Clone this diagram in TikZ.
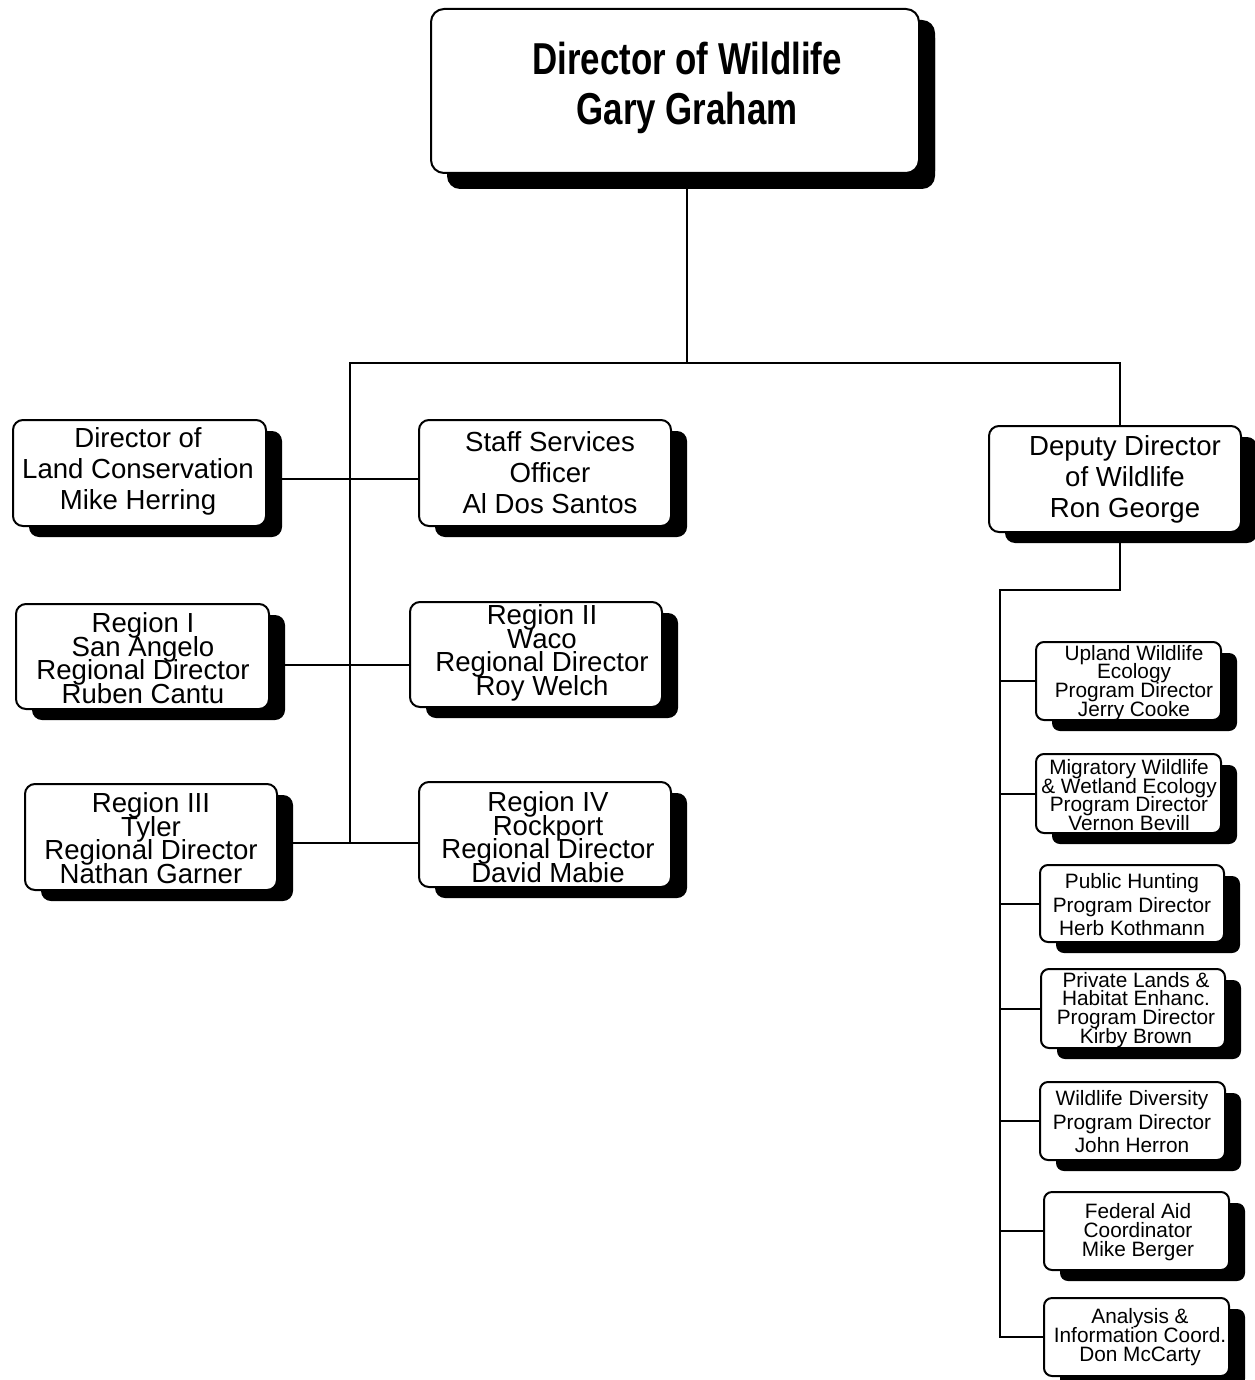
\documentclass[tikz,border=0pt]{standalone}
\usepackage{fontspec}
\usetikzlibrary{shadows}
\newfontfamily\orgfont{Liberation Sans}
\newfontfamily\headfont[FakeStretch=0.78]{Liberation Sans}
% fixed line pitch, even where glyphs of adjacent lines touch
\newcommand\fixedlines{\lineskiplimit=-100pt\lineskip=0pt}
\tikzset{
  box/.style={draw, line width=2pt, fill=white, inner sep=0pt, rounded corners=10pt,
    general shadow={fill=black, shadow xshift=16pt, shadow yshift=-11pt}},
  bigbox/.style={box, rounded corners=13pt,
    general shadow={fill=black, shadow xshift=16pt, shadow yshift=-16pt}},
  smallbox/.style={box, rounded corners=8pt},
  txt/.style={align=center, inner sep=0pt, text=black},
  midtxt/.style={txt, font=\orgfont\fontsize{27.6}{31}\selectfont\fixedlines},
  regtxt/.style={txt, font=\orgfont\fontsize{27.6}{23.5}\selectfont\fixedlines},
  smalltxt/.style={txt, font=\orgfont\fontsize{20.8}{18.8}\selectfont\fixedlines},
  smalltxtwide/.style={txt, font=\orgfont\fontsize{20.8}{23.5}\selectfont\fixedlines},
  wire/.style={line width=2pt, line cap=rect}
}
\begin{document}
\begin{tikzpicture}[x=1pt, y=-1pt]
\useasboundingbox[fill=white] (0,0) rectangle (1254,1380);

% ---- boxes (top-left corner, size) ----
\node[bigbox, anchor=north west, minimum width=488pt, minimum height=164pt] (top) at (430,8) {};
\node[box, anchor=north west, minimum width=253pt, minimum height=106pt] (land) at (12,419) {};
\node[box, anchor=north west, minimum width=252pt, minimum height=106pt] (staff) at (418,419) {};
\node[box, anchor=north west, minimum width=252pt, minimum height=106pt] (dep) at (988,425) {};
\node[box, anchor=north west, minimum width=253pt, minimum height=105pt] (r1) at (15,603) {};
\node[box, anchor=north west, minimum width=252pt, minimum height=105pt] (r2) at (409,601) {};
\node[box, anchor=north west, minimum width=252pt, minimum height=106pt] (r3) at (24,783) {};
\node[box, anchor=north west, minimum width=252pt, minimum height=105pt] (r4) at (418,781) {};
\node[smallbox, anchor=north west, minimum width=185pt, minimum height=78pt] (up) at (1035,641) {};
\node[smallbox, anchor=north west, minimum width=185pt, minimum height=79pt] (mig) at (1035,753) {};
\node[smallbox, anchor=north west, minimum width=184pt, minimum height=77pt] (pub) at (1039,864) {};
\node[smallbox, anchor=north west, minimum width=184pt, minimum height=79pt] (priv) at (1040,968) {};
\node[smallbox, anchor=north west, minimum width=185pt, minimum height=78pt] (div) at (1039,1081) {};
\node[smallbox, anchor=north west, minimum width=185pt, minimum height=78pt] (fed) at (1043,1191) {};
\node[smallbox, anchor=north west, minimum width=185pt, minimum height=78pt] (an) at (1043,1297) {};

% ---- texts ----
\node[txt, font=\headfont\bfseries\fontsize{44.7}{50}\selectfont\fixedlines] (topT) at (687,88) {Director of Wildlife\\Gary Graham};
\node[midtxt] (landT) at (138,471) {Director of\\Land Conservation\\Mike Herring};
\node[midtxt] (staffT) at (550,473) {Staff Services\\Officer\\Al Dos Santos};
\node[midtxt] (depT) at (1125,479) {Deputy Director\\of Wildlife\\Ron George};
\node[regtxt] (r1T) at (143,658) {Region I\\San Angelo\\Regional Director\\Ruben Cantu};
\node[regtxt] (r2T) at (542,653) {Region II\\Waco\\Regional Director\\Roy Welch};
\node[regtxt] (r3T) at (151,838) {Region III\\Tyler\\Regional Director\\Nathan Garner};
\node[regtxt] (r4T) at (548,837) {Region IV\\Rockport\\Regional Director\\David Mabie};
\node[smalltxt] (upT) at (1134,683) {Upland Wildlife\\Ecology\\Program Director\\Jerry Cooke};
\node[smalltxt] (migT) at (1129,795) {Migratory Wildlife\\\& Wetland Ecology\\Program Director\\Vernon Bevill};
\node[smalltxtwide] (pubT) at (1132,905) {Public Hunting\\Program Director\\Herb Kothmann};
\node[smalltxt] (privT) at (1136,1010) {Private Lands \&\\Habitat Enhanc.\\Program Director\\Kirby Brown};
\node[smalltxtwide] (divT) at (1132,1122) {Wildlife Diversity\\Program Director\\John Herron};
\node[smalltxt] (fedT) at (1138,1232) {Federal Aid\\Coordinator\\Mike Berger};
\node[smalltxt] (anT) at (1140,1337) {Analysis \&\\Information Coord.\\Don McCarty};

% ---- connectors ----
\coordinate (busM) at (687,363);
\coordinate (busL) at (350,363);
\coordinate (busR) at (1120,363);
\coordinate (spineB) at (350,843);
\coordinate (dj) at (1120,590);
\coordinate (sp) at (1000,590);

\draw[wire] (busM |- top.south) -- (busM);
\draw[wire] (busL) -- (busR);
\draw[wire] (busR) -- (busR |- dep.north);
\draw[wire] (busL) -- (spineB);
\draw[wire] ([yshift=-6pt]land.east) -- ([yshift=-6pt]land.east -| staff.west);
\draw[wire] ([yshift=-8pt]r1.east) -- ([yshift=-8pt]r1.east -| r2.west);
\draw[wire] (r3.east |- spineB) -- (r4.west |- spineB);

\draw[wire] (busR |- dep.south) -- (dj) -- (sp) -- (sp |- an.west);
\foreach \b in {up, mig, pub, priv, div, fed, an}
  \draw[wire] (sp |- \b.west) -- (\b.west);
\end{tikzpicture}
\end{document}
